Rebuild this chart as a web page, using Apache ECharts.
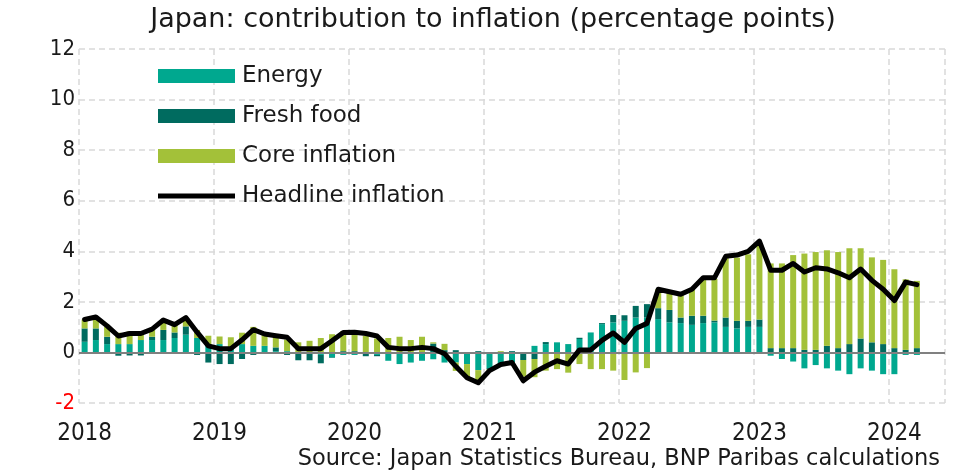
<!DOCTYPE html>
<html>
<head>
<meta charset="utf-8">
<title>Japan: contribution to inflation</title>
<script src="https://cdn.jsdelivr.net/npm/echarts@6/dist/echarts.min.js"></script>
<style>
  html, body { margin: 0; padding: 0; background: #fff; }
  #chart { width: 957px; height: 474px; }
</style>
</head>
<body>
<div id="chart"></div>
<script>
// year ticks on the x axis
const years = ["2018", "2019", "2020", "2021", "2022", "2023", "2024"];
// axis runs Jan 2018 .. May 2024, data stops at Mar 2024
const monthCount = 77;
const months = [];
for (let i = 0; i < monthCount; i++) {
  const y = 2018 + Math.floor(i / 12);
  const m = (i % 12) + 1;
  months.push(y + "-" + (m < 10 ? "0" + m : m));
}

// contributions in percentage points, Jan 2018 .. Mar 2024
const energy = [
  0.42, 0.49, 0.33, 0.33, 0.33, 0.49, 0.49, 0.49, 0.57, 0.70, 0.57, 0.26,
  0.33, 0.20, 0.33, 0.26, 0.26, 0.05, 0.05, -0.05, -0.05, -0.10, -0.20, -0.10,
  -0.10, -0.05, -0.10, -0.33, -0.46, -0.40, -0.33, -0.27, -0.40, -0.40, -0.46, -0.70,
  -0.62, -0.53, -0.40, 0.00, 0.26, 0.33, 0.40, 0.33, 0.53, 0.79, 1.12, 1.19,
  1.25, 1.38, 1.38, 1.32, 1.19, 1.16, 1.09, 1.16, 1.19, 1.01, 0.95, 1.01,
  1.01, -0.13, -0.26, -0.36, -0.63, -0.50, -0.63, -0.72, -0.86, -0.63, -0.72, -0.86,
  -0.86, -0.10, -0.10
];
const freshFood = [
  0.53, 0.46, 0.29, -0.13, -0.12, -0.12, 0.13, 0.40, 0.22, 0.33, -0.10, -0.40,
  -0.46, -0.46, -0.26, -0.10, 0.00, 0.15, -0.10, -0.26, -0.26, -0.33, -0.02, 0.05,
  0.05, -0.10, -0.05, 0.00, 0.00, 0.00, 0.00, 0.35, 0.09, 0.09, 0.00, 0.05,
  -0.05, 0.00, 0.05, -0.30, -0.26, 0.08, 0.00, 0.00, 0.05, 0.00, 0.04, 0.29,
  0.22, 0.46, 0.53, 0.43, 0.49, 0.22, 0.36, 0.29, 0.07, 0.37, 0.30, 0.24,
  0.29, 0.17, 0.17, 0.17, 0.10, 0.10, 0.26, 0.17, 0.33, 0.55, 0.40, 0.33,
  0.17, 0.10, 0.17
];
const core = [
  0.35, 0.45, 0.40, 0.45, 0.50, 0.35, 0.30, 0.38, 0.30, 0.35, 0.32, 0.40,
  0.30, 0.40, 0.45, 0.75, 0.45, 0.45, 0.46, 0.40, 0.46, 0.57, 0.72, 0.79,
  0.75, 0.65, 0.55, 0.57, 0.62, 0.49, 0.62, 0.05, 0.25, -0.33, -0.53, -0.40,
  -0.05, 0.05, -0.05, -0.66, -0.72, -0.72, -0.66, -0.80, -0.46, -0.66, -0.66, -0.72,
  -1.09, -0.79, -0.62, 0.75, 0.70, 0.99, 1.05, 1.45, 1.65, 2.37, 2.50, 2.63,
  2.98, 3.35, 3.35, 3.68, 3.81, 3.87, 3.78, 3.80, 3.79, 3.57, 3.36, 3.33,
  3.12, 2.79, 2.66
];
// headline CPI, % y/y
const headline = [
  1.30, 1.40, 1.05, 0.65, 0.75, 0.75, 0.92, 1.28, 1.10, 1.38, 0.80, 0.26,
  0.15, 0.15, 0.50, 0.90, 0.73, 0.66, 0.60, 0.15, 0.15, 0.15, 0.46, 0.79,
  0.80, 0.75, 0.65, 0.20, 0.15, 0.15, 0.20, 0.15, -0.05, -0.55, -1.00, -1.20,
  -0.72, -0.48, -0.40, -1.12, -0.78, -0.55, -0.33, -0.46, 0.10, 0.10, 0.48, 0.77,
  0.40, 0.95, 1.15, 2.50, 2.40, 2.30, 2.50, 2.95, 2.95, 3.80, 3.85, 4.00,
  4.40, 3.25, 3.25, 3.52, 3.18, 3.35, 3.30, 3.15, 2.95, 3.30, 2.85, 2.50,
  2.05, 2.78, 2.68
];

const NUM_FONT = "DejaVu Sans Condensed";
const TXT_FONT = "DejaVu Sans";
const INK = "#1a1a1a";
// thick line icon for the headline entry (specks keep the box 77x14)
const lineIcon = "path://M0,0L0.01,0L0.01,0.01Z M0,4.5L77,4.5L77,9.5L0,9.5Z M0,14L0.01,14L0.01,13.99Z";

const chart = echarts.init(document.getElementById("chart"), null, { renderer: "canvas" });

chart.setOption({
  animation: false,
  backgroundColor: "#ffffff",
  textStyle: { fontFamily: TXT_FONT, color: INK },
  legend: {
    orient: "vertical",
    left: 153,
    top: 58,
    itemWidth: 77,
    itemHeight: 14,
    itemGap: 14,
    data: [
      { name: "Energy", icon: "rect" },
      { name: "Fresh food", icon: "rect" },
      { name: "Core inflation", icon: "rect" },
      { name: "Headline inflation", icon: lineIcon, itemStyle: { color: "#000" } }
    ],
    textStyle: { fontFamily: TXT_FONT, fontSize: 23, color: INK, lineHeight: 26, padding: [0, 0, 0, 2] }
  },
  graphic: [
    {
      type: "text",
      x: 493,
      y: 6,
      style: {
        text: "Japan: contribution to inflation (percentage points)",
        font: "27px '" + TXT_FONT + "'",
        fill: INK,
        align: "center",
        verticalAlign: "top"
      }
    },
    {
      type: "text",
      x: 940,
      y: 448,
      style: {
        text: "Source: Japan Statistics Bureau, BNP Paribas calculations",
        font: "22.5px '" + TXT_FONT + "'",
        fill: INK,
        align: "right",
        verticalAlign: "top"
      }
    }
  ],
  grid: { left: 79, right: 12, top: 49, bottom: 71, containLabel: false },
  xAxis: {
    type: "category",
    data: months,
    boundaryGap: true,
    axisLine: { show: false, onZero: false },
    axisTick: { show: false },
    axisLabel: {
      interval: (i) => i % 12 === 0,
      formatter: (v) => years[years.indexOf(v.slice(0, 4))],
      fontFamily: NUM_FONT,
      fontSize: 24,
      color: INK,
      margin: 19
    },
    splitLine: {
      show: true,
      interval: (i) => i % 12 === 0,
      lineStyle: { color: "#d9d9d9", width: 1.5, type: [6, 4] }
    }
  },
  yAxis: {
    type: "value",
    min: -2,
    max: 12,
    interval: 2,
    axisLine: { show: false },
    axisTick: { show: false },
    axisLabel: {
      fontFamily: NUM_FONT,
      fontSize: 22,
      color: INK,
      margin: 4,
      formatter: (v) => (v < 0 ? "{neg|" + v + "}" : String(v)),
      rich: { neg: { color: "#ff0000", fontFamily: NUM_FONT, fontSize: 22 } }
    },
    splitLine: { lineStyle: { color: "#d9d9d9", width: 1.5, type: [6, 4] } }
  },
  series: [
    {
      name: "Energy",
      type: "bar",
      stack: "contrib",
      barWidth: 6,
      itemStyle: { color: "#00a88f" },
      data: energy,
      markLine: {
        silent: true,
        symbol: "none",
        label: { show: false },
        lineStyle: { color: "#808080", width: 2, type: "solid" },
        data: [{ yAxis: 0 }]
      }
    },
    {
      name: "Fresh food",
      type: "bar",
      stack: "contrib",
      barWidth: 6,
      itemStyle: { color: "#006b5f" },
      data: freshFood
    },
    {
      name: "Core inflation",
      type: "bar",
      stack: "contrib",
      barWidth: 6,
      itemStyle: { color: "#a3c139" },
      data: core
    },
    {
      name: "Headline inflation",
      type: "line",
      z: 5,
      symbol: "none",
      lineStyle: { color: "#000000", width: 5, cap: "round", join: "round" },
      itemStyle: { color: "#000000" },
      data: headline
    }
  ]
});
</script>
</body>
</html>
